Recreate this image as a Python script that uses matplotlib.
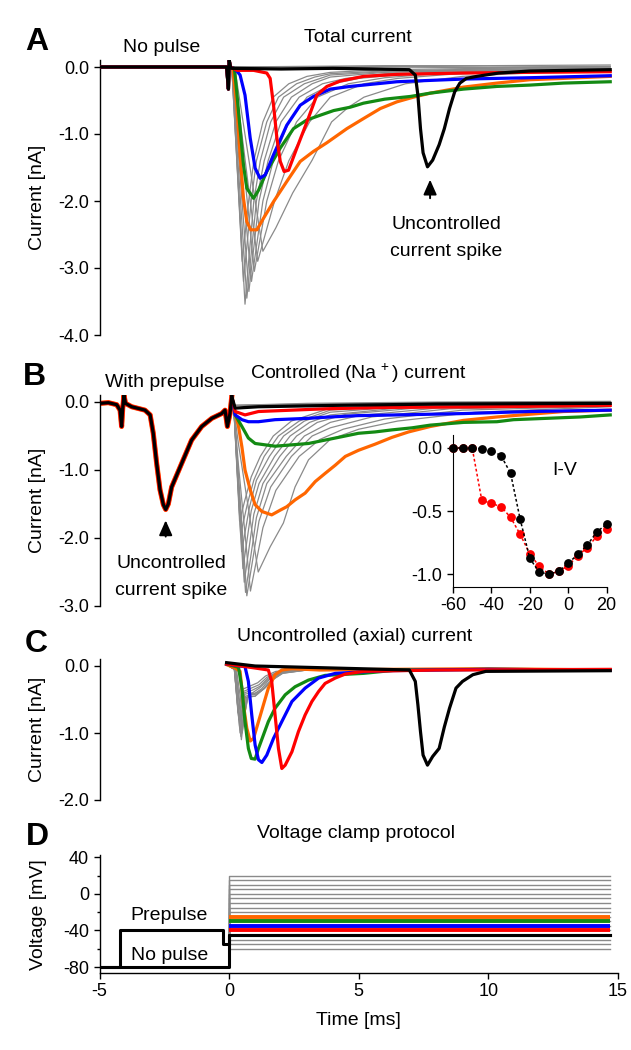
import matplotlib
matplotlib.use("Agg")
import matplotlib.pyplot as plt
from matplotlib.ticker import FixedLocator, FormatStrFormatter

plt.rcParams["font.family"] = ["Liberation Sans", "DejaVu Sans"]
plt.rcParams["axes.unicode_minus"] = False
plt.rcParams["mathtext.fontset"] = "custom"
plt.rcParams["mathtext.rm"] = "Liberation Sans"

ORANGE, GREEN, BLUE, RED, GRAY = "#ff6600", "#138a13", "#0000ff", "#ff0000", "#8a8a8a"

# ---------------- panel A: total current (time in ms, current in nA) ----------------
a_pre_t = [-5.0, -0.1, -0.03, 0.0, 0.05]
a_pre_i = [0.0, 0.0, -0.33, 0.1, 0.0]

a_orange_t = [0.14, 0.29, 0.42, 0.55, 0.68, 0.83, 1.07, 1.32, 1.71, 2.22, 2.74, 3.25, 3.77, 4.54, 5.18,
              5.83, 6.47, 7.11, 7.76, 9.04, 10.33, 11.6, 12.9, 14.7]
a_orange_i = [-0.02, -0.57, -1.31, -1.96, -2.31, -2.43, -2.43, -2.26, -2.01, -1.71, -1.41, -1.26, -1.13,
              -0.92, -0.77, -0.62, -0.52, -0.45, -0.39, -0.30, -0.24, -0.19, -0.17, -0.14]
a_green_t = [0.2, 0.29, 0.42, 0.55, 0.68, 0.94, 1.13, 1.45, 1.97, 2.48, 3.0, 3.51, 4.03, 4.67, 5.18, 6.0,
             6.98, 7.76, 9.04, 10.33, 11.6, 12.9, 14.7]
a_green_i = [-0.02, -0.37, -0.92, -1.46, -1.81, -1.96, -1.84, -1.56, -1.21, -0.92, -0.79, -0.72, -0.65,
             -0.60, -0.54, -0.48, -0.44, -0.39, -0.33, -0.29, -0.27, -0.24, -0.22]
a_blue_t = [0.23, 0.42, 0.61, 0.81, 1.0, 1.19, 1.39, 1.71, 2.22, 2.74, 3.25, 3.9, 4.67, 6.47, 9.04, 11.6, 14.7]
a_blue_i = [-0.03, -0.12, -0.42, -1.06, -1.51, -1.66, -1.61, -1.31, -0.87, -0.57, -0.44, -0.33, -0.29,
            -0.22, -0.18, -0.16, -0.13]
a_red_t = [0.3, 0.94, 1.45, 1.58, 1.71, 1.84, 1.97, 2.12, 2.29, 2.61, 3.0, 3.38, 3.77, 4.28, 5.18, 6.47,
           9.04, 11.6, 14.7]
a_red_i = [-0.05, -0.05, -0.09, -0.17, -0.57, -1.06, -1.41, -1.56, -1.54, -1.21, -0.82, -0.42, -0.29,
           -0.21, -0.14, -0.11, -0.09, -0.08, -0.07]
a_black_t = [0.1, 2.0, 4.0, 6.95, 7.18, 7.28, 7.38, 7.48, 7.65, 7.85, 8.1, 8.3, 8.5, 8.7, 8.9, 9.15, 9.55,
             10.4, 11.6, 14.7]
a_black_i = [-0.02, -0.03, -0.02, -0.04, -0.12, -0.42, -0.92, -1.28, -1.49, -1.39, -1.16, -0.92, -0.62,
             -0.37, -0.24, -0.17, -0.14, -0.09, -0.06, -0.04]

a_gray_t = [
    [0.1, 0.5, 0.75, 0.95, 1.3, 1.7, 2.3, 3.0, 3.9, 6.0, 10.0, 14.7],
    [0.1, 0.55, 0.85, 1.05, 1.45, 1.9, 2.6, 3.3, 3.9, 6.0, 10.0, 14.7],
    [0.1, 0.61, 0.95, 1.2, 1.6, 2.1, 2.9, 3.9, 6.0, 10.0, 14.7],
    [0.1, 0.68, 1.05, 1.35, 1.8, 2.4, 3.2, 3.9, 6.0, 10.0, 14.7],
    [0.1, 0.76, 1.15, 1.5, 2.0, 2.7, 3.6, 4.5, 6.0, 10.0, 14.7],
    [0.1, 0.86, 1.3, 1.7, 2.3, 3.0, 4.0, 5.0, 7.0, 10.0, 14.7],
    [0.1, 0.2, 0.97, 1.45, 1.9, 2.6, 3.4, 4.6, 6.0, 8.0, 11.0, 14.7],
    [0.1, 0.2, 1.1, 1.75, 2.3, 3.1, 3.9, 5.2, 6.5, 8.5, 11.0, 14.7],
    [0.1, 0.25, 1.3, 1.8, 2.45, 3.2, 3.95, 4.6, 5.2, 6.8, 9.0, 12.0, 14.7],
    [0.1, 3.0, 6.0, 10.0, 14.7],
    [0.1, 3.0, 6.0, 10.0, 14.7],
    [0.1, 3.0, 6.0, 10.0, 14.7],
]
a_gray_i = [
    [0.0, -2.9, -2.0, -1.4, -0.82, -0.45, -0.25, -0.14, -0.08, -0.04, -0.02, 0.0],
    [0.0, -3.2, -2.0, -1.4, -0.82, -0.45, -0.25, -0.15, -0.10, -0.06, -0.03, -0.02],
    [0.0, -3.54, -2.0, -1.4, -0.82, -0.45, -0.25, -0.12, -0.07, -0.04, -0.02],
    [0.0, -3.45, -2.0, -1.4, -0.82, -0.45, -0.25, -0.15, -0.08, -0.05, -0.03],
    [0.0, -3.35, -2.0, -1.4, -0.82, -0.45, -0.25, -0.17, -0.10, -0.06, -0.04],
    [0.0, -3.2, -2.0, -1.4, -0.82, -0.45, -0.25, -0.17, -0.10, -0.07, -0.04],
    [0.0, -0.1, -3.05, -2.0, -1.4, -0.82, -0.45, -0.25, -0.16, -0.10, -0.06, -0.04],
    [0.0, -0.1, -2.9, -2.0, -1.4, -0.82, -0.45, -0.25, -0.17, -0.11, -0.07, -0.05],
    [0.0, -0.1, -2.75, -2.4, -1.88, -1.39, -0.82, -0.6, -0.45, -0.25, -0.14, -0.08, -0.06],
    [0.0, 0.01, 0.02, 0.02, 0.03],
    [0.0, 0.0, 0.01, 0.0, 0.01],
    [0.0, -0.01, 0.0, -0.01, 0.0],
]

# ---------------- panel B: controlled (Na+) current ----------------
b_pre_t = [-5.0, -4.66, -4.34, -4.21, -4.15, -4.11, -4.06, -4.0, -3.76, -3.25, -3.05, -2.93, -2.8, -2.67,
           -2.54, -2.45, -2.35, -2.22, -1.83, -1.45, -1.06, -0.67, -0.29, -0.16, -0.07, 0.03, 0.1]
b_pre_i = [-0.02, -0.01, -0.04, -0.12, -0.36, -0.1, 0.1, -0.02, -0.07, -0.12, -0.19, -0.46, -0.9, -1.29,
           -1.51, -1.58, -1.5, -1.25, -0.9, -0.56, -0.36, -0.24, -0.17, -0.12, -0.36, -0.17, 0.08]

b_orange_t = [0.23, 0.36, 0.49, 0.61, 0.81, 1.0, 1.26, 1.64, 1.97, 2.22, 2.54, 2.93, 3.32, 3.7, 4.09, 4.48,
              4.99, 5.63, 6.28, 6.92, 7.76, 9.04, 10.33, 11.6, 12.9, 14.7]
b_orange_i = [-0.17, -0.36, -0.66, -1.0, -1.29, -1.51, -1.61, -1.66, -1.59, -1.54, -1.44, -1.34, -1.17,
              -1.05, -0.93, -0.80, -0.71, -0.62, -0.52, -0.44, -0.36, -0.27, -0.22, -0.18, -0.14, -0.12]
b_green_t = [0.23, 0.49, 0.74, 1.0, 1.77, 2.42, 3.06, 3.7, 4.35, 4.99, 5.63, 6.28, 7.05, 7.76, 9.04, 10.33,
             10.97, 12.26, 13.55, 14.7]
b_green_i = [-0.19, -0.36, -0.53, -0.61, -0.65, -0.63, -0.61, -0.56, -0.51, -0.46, -0.44, -0.41, -0.38,
             -0.34, -0.30, -0.29, -0.26, -0.24, -0.22, -0.19]
b_blue_t = [0.23, 0.49, 0.74, 1.13, 1.77, 3.06, 3.9, 4.99, 6.47, 9.04, 11.6, 14.7]
b_blue_i = [-0.19, -0.26, -0.29, -0.29, -0.26, -0.24, -0.22, -0.20, -0.19, -0.17, -0.14, -0.12]
b_red_t = [0.23, 0.61, 1.13, 3.7, 6.0, 10.0, 14.7]
b_red_i = [-0.14, -0.19, -0.14, -0.10, -0.08, -0.07, -0.05]
b_black_t = [0.23, 1.13, 4.0, 8.0, 14.7]
b_black_i = [-0.09, -0.07, -0.05, -0.03, -0.02]

b_gray_t = [
    [0.18, 0.4, 0.6, 0.85, 1.2, 1.7, 2.4, 3.9, 7.0, 14.7],
    [0.18, 0.44, 0.7, 0.95, 1.35, 1.9, 2.7, 3.9, 7.0, 14.7],
    [0.18, 0.48, 0.78, 1.05, 1.55, 2.1, 2.9, 3.9, 7.0, 14.7],
    [0.18, 0.53, 0.85, 1.15, 1.75, 2.35, 3.1, 3.9, 7.0, 14.7],
    [0.18, 0.58, 0.95, 1.3, 1.95, 2.6, 3.4, 4.5, 7.5, 14.7],
    [0.18, 0.63, 1.05, 1.45, 2.2, 2.9, 3.9, 5.0, 8.0, 14.7],
    [0.18, 0.68, 1.15, 1.6, 2.4, 3.2, 3.9, 5.5, 8.5, 14.7],
    [0.18, 0.35, 0.82, 1.3, 1.8, 2.7, 3.5, 4.4, 6.0, 9.0, 14.7],
    [0.18, 0.35, 1.12, 1.58, 2.09, 2.54, 3.06, 3.9, 5.0, 6.5, 9.5, 14.7],
    [0.18, 3.0, 8.0, 14.7],
    [0.18, 3.0, 8.0, 14.7],
    [0.18, 3.0, 8.0, 14.7],
]
b_gray_i = [
    [-0.1, -1.75, -1.45, -1.1, -0.8, -0.5, -0.28, -0.09, -0.04, -0.02],
    [-0.1, -1.95, -1.5, -1.15, -0.8, -0.5, -0.28, -0.12, -0.05, -0.03],
    [-0.1, -2.2, -1.55, -1.15, -0.8, -0.5, -0.28, -0.15, -0.06, -0.03],
    [-0.1, -2.45, -1.6, -1.2, -0.8, -0.5, -0.3, -0.19, -0.07, -0.04],
    [-0.1, -2.65, -1.65, -1.2, -0.8, -0.5, -0.3, -0.18, -0.08, -0.04],
    [-0.1, -2.8, -1.7, -1.2, -0.8, -0.5, -0.3, -0.2, -0.09, -0.05],
    [-0.1, -2.85, -1.75, -1.25, -0.8, -0.5, -0.38, -0.22, -0.1, -0.05],
    [-0.1, -0.9, -2.78, -1.85, -1.3, -0.8, -0.55, -0.4, -0.25, -0.12, -0.06],
    [-0.1, -0.6, -2.5, -2.13, -1.78, -1.25, -0.85, -0.55, -0.4, -0.28, -0.15, -0.07],
    [-0.05, -0.02, 0.0, 0.01],
    [-0.05, -0.03, -0.01, 0.0],
    [-0.05, -0.04, -0.02, -0.01],
]

# I-V inset (mV, normalised current)
iv_v = [-60, -55, -50, -45, -40, -35, -30, -25, -20, -15, -10, -5, 0, 5, 10, 15, 20]
iv_black = [0.0, 0.0, 0.0, -0.005, -0.02, -0.06, -0.20, -0.565, -0.875, -0.987, -1.0, -0.98, -0.915,
            -0.845, -0.77, -0.665, -0.605]
iv_red = [0.0, 0.0, 0.0, -0.415, -0.44, -0.465, -0.55, -0.685, -0.84, -0.94, -1.0, -0.98, -0.935,
          -0.855, -0.79, -0.70, -0.64]

# ---------------- panel C: uncontrolled (axial) current ----------------
c_orange_t = [-0.1, 0.23, 0.42, 0.55, 0.68, 0.81, 0.94, 1.13, 1.32, 1.51, 1.77, 2.03, 2.42, 3.5, 6.0, 10.0, 14.7]
c_orange_i = [0.02, -0.03, -0.08, -0.58, -0.93, -1.12, -1.08, -0.83, -0.58, -0.33, -0.13, -0.06, -0.04,
              -0.06, -0.05, -0.04, -0.06]
c_green_t = [-0.1, 0.36, 0.49, 0.61, 0.74, 0.85, 1.0, 1.13, 1.32, 1.51, 1.77, 2.16, 2.54, 3.06, 3.7, 5.18,
             6.47, 10.0, 14.7]
c_green_i = [0.03, -0.02, -0.33, -0.83, -1.23, -1.38, -1.39, -1.23, -1.03, -0.83, -0.63, -0.43, -0.31,
             -0.21, -0.14, -0.11, -0.06, -0.05, -0.06]
c_blue_t = [-0.1, 0.61, 0.74, 0.87, 1.0, 1.13, 1.26, 1.45, 1.71, 2.03, 2.42, 2.93, 3.45, 4.09, 6.0, 10.0, 14.7]
c_blue_i = [0.03, -0.01, -0.23, -0.73, -1.18, -1.40, -1.44, -1.33, -1.08, -0.83, -0.53, -0.33, -0.18,
            -0.11, -0.07, -0.05, -0.06]
c_red_t = [-0.1, 1.0, 1.51, 1.64, 1.77, 1.9, 2.03, 2.16, 2.42, 2.67, 2.93, 3.19, 3.45, 3.7, 4.09, 4.48,
           5.18, 8.0, 14.7]
c_red_i = [0.03, -0.03, -0.06, -0.23, -0.73, -1.23, -1.53, -1.48, -1.28, -0.98, -0.73, -0.53, -0.38,
           -0.26, -0.18, -0.12, -0.08, -0.06, -0.05]
c_black_t = [-0.1, 1.0, 3.0, 5.0, 6.95, 7.18, 7.28, 7.38, 7.48, 7.65, 7.85, 8.1, 8.3, 8.5, 8.75, 9.0,
             9.4, 9.9, 14.7]
c_black_i = [0.05, 0.0, -0.02, -0.04, -0.06, -0.23, -0.58, -0.98, -1.33, -1.48, -1.35, -1.23, -0.91,
             -0.63, -0.33, -0.23, -0.13, -0.08, -0.07]

c_gray_t = [
    [-0.1, 0.2, 0.34, 0.5, 0.8, 1.1, 1.4, 1.8, 3.0, 14.7],
    [-0.1, 0.2, 0.37, 0.55, 0.85, 1.15, 1.45, 1.85, 3.0, 14.7],
    [-0.1, 0.2, 0.4, 0.58, 0.9, 1.2, 1.5, 1.9, 3.0, 14.7],
    [-0.1, 0.2, 0.42, 0.6, 0.9, 1.2, 1.5, 1.9, 3.0, 14.7],
    [-0.1, 0.22, 0.45, 0.63, 0.95, 1.25, 1.55, 1.95, 3.0, 14.7],
    [-0.1, 0.22, 0.47, 0.66, 1.0, 1.3, 1.6, 2.0, 3.0, 14.7],
    [-0.1, 0.25, 0.5, 0.7, 1.0, 1.3, 1.6, 2.0, 3.0, 14.7],
    [-0.1, 0.25, 0.52, 0.72, 1.05, 1.35, 1.65, 2.05, 3.0, 14.7],
    [-0.1, 0.28, 0.55, 0.75, 1.1, 1.4, 1.7, 2.1, 3.0, 14.7],
]
c_gray_i = [
    [0.02, -0.05, -0.7, -0.35, -0.3, -0.25, -0.15, -0.08, -0.05, -0.04],
    [0.02, -0.05, -0.8, -0.38, -0.33, -0.28, -0.17, -0.09, -0.05, -0.04],
    [0.02, -0.05, -0.9, -0.4, -0.36, -0.3, -0.18, -0.09, -0.05, -0.04],
    [0.02, -0.05, -1.0, -0.42, -0.4, -0.32, -0.2, -0.1, -0.05, -0.04],
    [0.02, -0.05, -1.05, -0.45, -0.42, -0.34, -0.2, -0.1, -0.05, -0.04],
    [0.02, -0.05, -1.1, -0.47, -0.45, -0.35, -0.22, -0.1, -0.05, -0.04],
    [0.02, -0.05, -1.0, -0.46, -0.45, -0.35, -0.22, -0.11, -0.06, -0.04],
    [0.02, -0.05, -0.9, -0.44, -0.42, -0.34, -0.21, -0.11, -0.06, -0.04],
    [0.02, -0.05, -0.8, -0.42, -0.4, -0.32, -0.2, -0.1, -0.06, -0.04],
]

# ---------------- panel D: voltage protocol (mV) ----------------
d_steps = [-60, -55, -50, -45, -40, -35, -30, -25, -20, -15, -10, -5, 0, 5, 10, 15, 20]
d_hold = -80
d_colored = [(-25, ORANGE), (-30, GREEN), (-35, BLUE), (-40, RED)]
d_pre_t = [-5.0, -4.2, -4.2, -0.24, -0.24, 0.0, 0.0, 14.7]
d_pre_v = [-80, -80, -40, -40, -55, -55, -45, -45]
d_nopulse_t = [-5.0, 0.0, 0.0, 14.7]
d_nopulse_v = [-80, -80, -45, -45]
d_end = 14.7

# ---------------- layout (pixel positions of the reference) ----------------
W, H = 631, 1050
fig = plt.figure(figsize=(W / 100, H / 100), dpi=100)


def fx(x):
    return x / W


def fy(y):
    return 1 - y / H


X_L, X_R = 99.6, 618.0


def panel(top, bottom):
    ax = fig.add_axes([fx(X_L), fy(bottom), (X_R - X_L) / W, (bottom - top) / H])
    ax.set_facecolor("none")
    for s in ("top", "right"):
        ax.spines[s].set_visible(False)
    ax.set_xlim(-5, 15)
    ax.tick_params(direction="out", length=4, width=1, labelsize=13)
    ax.spines["left"].set_linewidth(1.0)
    ax.spines["bottom"].set_linewidth(1.0)
    return ax


def current_axes(ax, ticks):
    ax.spines["bottom"].set_visible(False)
    ax.set_xticks([])
    ax.set_yticks(ticks)
    ax.yaxis.set_major_formatter(FormatStrFormatter("%.1f"))
    ax.set_ylabel("Current [nA]", fontsize=14)
    ax.yaxis.set_label_coords(-0.104, 0.5)


ax_a = panel(60.3, 335)
ax_a.set_ylim(-4.0, 0.1)
current_axes(ax_a, [0, -1, -2, -3, -4])

ax_b = panel(395.2, 606)
ax_b.set_ylim(-3.0, 0.1)
current_axes(ax_b, [0, -1, -2, -3])

ax_c = panel(659.3, 800)
ax_c.set_ylim(-2.0, 0.1)
current_axes(ax_c, [0, -1, -2])

ax_d = panel(855.4, 973)
ax_d.set_ylim(-86.5, 42)

thin = dict(color=GRAY, lw=0.9, zorder=1)
thick = dict(lw=2.3, solid_joinstyle="round")

# panel A traces
for t, i in zip(a_gray_t, a_gray_i):
    ax_a.plot(a_pre_t + t, a_pre_i + i, **thin)
for t, i, col in [(a_orange_t, a_orange_i, ORANGE), (a_green_t, a_green_i, GREEN),
                  (a_blue_t, a_blue_i, BLUE), (a_red_t, a_red_i, RED), (a_black_t, a_black_i, "black")]:
    ax_a.plot(a_pre_t + t, a_pre_i + i, color=col, zorder=3, **thick)

# panel B traces: the prepulse part is common, coloured copies peek out under the black one
for t, i in zip(b_gray_t, b_gray_i):
    ax_b.plot(b_pre_t + t, b_pre_i + i, **thin)
for col, lw in [(ORANGE, 3.7), (RED, 3.2)]:
    ax_b.plot(b_pre_t, b_pre_i, color=col, lw=lw, zorder=2, solid_joinstyle="round")
for t, i, col in [(b_orange_t, b_orange_i, ORANGE), (b_green_t, b_green_i, GREEN),
                  (b_blue_t, b_blue_i, BLUE), (b_red_t, b_red_i, RED), (b_black_t, b_black_i, "black")]:
    ax_b.plot(b_pre_t[-1:] + t, b_pre_i[-1:] + i, color=col, zorder=3, **thick)
ax_b.plot(b_pre_t, b_pre_i, color="black", zorder=4, **thick)

# panel C traces
for t, i in zip(c_gray_t, c_gray_i):
    ax_c.plot(t, i, **thin)
for t, i, col in [(c_orange_t, c_orange_i, ORANGE), (c_green_t, c_green_i, GREEN),
                  (c_blue_t, c_blue_i, BLUE), (c_red_t, c_red_i, RED), (c_black_t, c_black_i, "black")]:
    ax_c.plot(t, i, color=col, zorder=3, **thick)

# panel D protocol
for v in d_steps:
    ax_d.plot([-5.0, 0.0, 0.0, d_end], [d_hold, d_hold, v, v], color=GRAY, lw=1.0, zorder=1)
for v, col in d_colored:
    ax_d.plot([0.0, d_end], [v, v], color=col, lw=2.8, zorder=3, solid_capstyle="butt")
ax_d.plot(d_nopulse_t, d_nopulse_v, color="black", lw=2.2, zorder=4)
ax_d.plot(d_pre_t, d_pre_v, color="black", lw=2.2, zorder=4)
ax_d.set_xticks([-5, 0, 5, 10, 15])
ax_d.set_yticks([40, 0, -40, -80])
ax_d.yaxis.set_minor_locator(FixedLocator([20, -20, -60]))
ax_d.tick_params(which="minor", direction="out", length=2.5, width=1)
ax_d.set_xlabel("Time [ms]", fontsize=14, labelpad=8)
ax_d.set_ylabel("Voltage [mV]", fontsize=14)
ax_d.yaxis.set_label_coords(-0.102, 0.5)

# I-V inset
ax_iv = fig.add_axes([fx(453), fy(587), 153.5 / W, 152 / H])
ax_iv.set_facecolor("none")
for s in ("top", "right"):
    ax_iv.spines[s].set_visible(False)
ax_iv.set_xlim(-60, 20)
ax_iv.set_ylim(-1.103, 0.103)
ax_iv.plot(iv_v, iv_red, color=RED, ls=(0, (1.8, 1.5)), lw=1.1, marker="o", ms=5.3, clip_on=False, zorder=3)
ax_iv.plot(iv_v, iv_black, color="black", ls=(0, (1.8, 1.5)), lw=1.1, marker="o", ms=5.3, clip_on=False,
           zorder=4)
ax_iv.set_xticks([-60, -40, -20, 0, 20])
ax_iv.set_yticks([0, -0.5, -1.0])
ax_iv.yaxis.set_major_formatter(FormatStrFormatter("%.1f"))
ax_iv.tick_params(direction="out", length=4, width=1, labelsize=13)

# annotations and labels (pixel positions)
txt = dict(fontsize=14, ha="center", va="baseline")
for letter, x, y in [("A", 37, 50), ("B", 34, 385), ("C", 36, 652), ("D", 37, 845)]:
    fig.text(fx(x), fy(y), letter, fontsize=23, fontweight="bold", ha="center", va="baseline")
fig.text(fx(162), fy(52), "No pulse", **txt)
fig.text(fx(358), fy(42.5), "Total current", **txt)
fig.text(fx(446), fy(229), "Uncontrolled", **txt)
fig.text(fx(446), fy(256), "current spike", **txt)
fig.text(fx(165), fy(387), "With prepulse", **txt)
fig.text(fx(358), fy(379), "Controlled (Na$^{\\,+}$) current", **txt)
fig.text(fx(171), fy(568), "Uncontrolled", **txt)
fig.text(fx(171), fy(595), "current spike", **txt)
fig.text(fx(565), fy(475), "I-V", **txt)
fig.text(fx(355), fy(641), "Uncontrolled (axial) current", **txt)
fig.text(fx(356), fy(838), "Voltage clamp protocol", **txt)
fig.text(fx(169.5), fy(920), "Prepulse", **txt)
fig.text(fx(169.5), fy(960), "No pulse", **txt)

arrow = dict(arrowstyle="-|>,head_length=0.9,head_width=0.4", color="black", lw=1.4)
ax_a.annotate("", xy=(7.75, -1.64), xytext=(7.75, -2.0), arrowprops=arrow)
ax_b.annotate("", xy=(-2.45, -1.7), xytext=(-2.45, -2.02), arrowprops=arrow)

fig.savefig("out.png", dpi=100)
